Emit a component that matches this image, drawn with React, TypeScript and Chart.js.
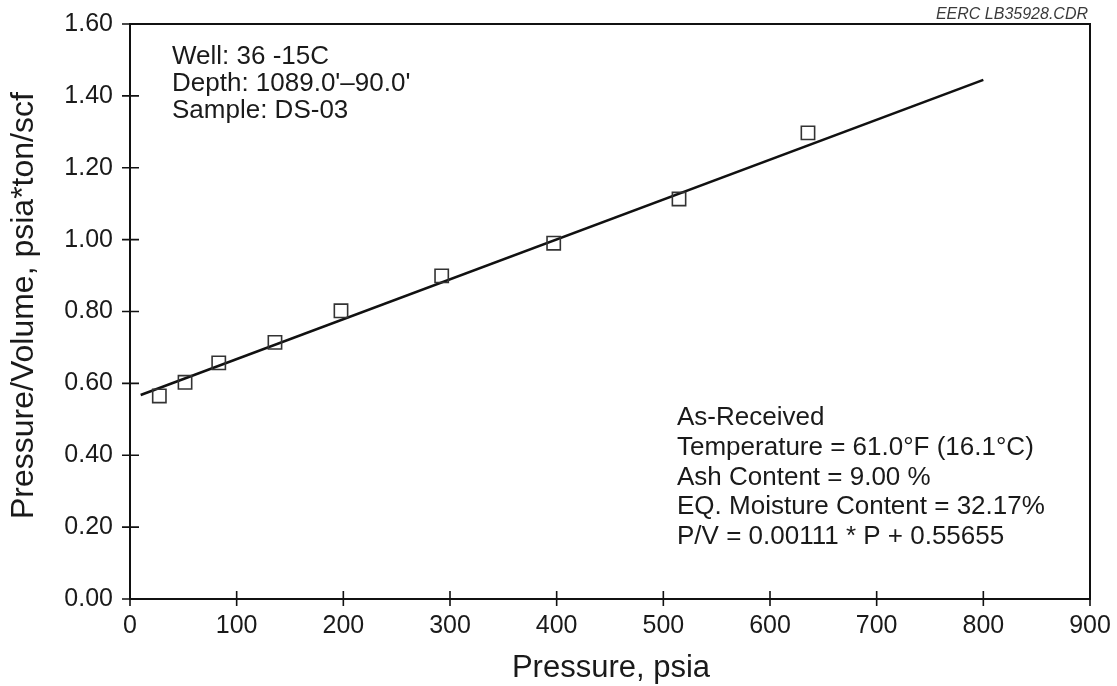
import { useEffect, useRef } from 'react';
import { Chart, registerables } from 'chart.js';

Chart.register(...registerables);

// Measured sorption isotherm points (pressure in psia, P/V in psia*ton/scf)
const pressure = [27.5, 51.6, 83.2, 135.9, 197.8, 292.2, 397.2, 514.7, 635.6];
const pvRatio = [0.565, 0.603, 0.657, 0.714, 0.802, 0.899, 0.99, 1.113, 1.297];

// Linear fit stated on the chart: P/V = 0.00111 * P + 0.55655
const fitSlope = 0.00111;
const fitIntercept = 0.55655;
const fitRange = [10, 800];

const xTickValues = [0, 100, 200, 300, 400, 500, 600, 700, 800, 900];
const yTickValues = [0, 0.2, 0.4, 0.6, 0.8, 1.0, 1.2, 1.4, 1.6];

const wellInfo = ['Well: 36 -15C', "Depth: 1089.0'–90.0'", 'Sample: DS-03'];
const sampleInfo = [
  'As-Received',
  'Temperature = 61.0°F (16.1°C)',
  'Ash Content = 9.00 %',
  'EQ. Moisture Content = 32.17%',
  'P/V = 0.00111 * P + 0.55655',
];
const fileTag = 'EERC LB35928.CDR';
const xTitle = 'Pressure, psia';
const yTitle = 'Pressure/Volume, psia*ton/scf';

const FONT = '"Liberation Sans", Arial, Helvetica, sans-serif';
const INK = '#1a1a1a';

// Frame, crossing tick marks, axis titles and text notes
const decorPlugin = {
  id: 'decor',
  afterDraw(chart: any) {
    const { ctx, chartArea: a, scales } = chart;
    const xs = scales.x;
    const ys = scales.y;
    ctx.save();

    ctx.strokeStyle = '#111';
    ctx.lineWidth = 2;
    ctx.strokeRect(a.left, a.top, a.right - a.left, a.bottom - a.top);

    ctx.lineWidth = 1.6;
    ctx.beginPath();
    xTickValues.forEach((v) => {
      const px = xs.getPixelForValue(v);
      ctx.moveTo(px, a.bottom - 8);
      ctx.lineTo(px, a.bottom + 7);
    });
    yTickValues.forEach((v) => {
      const py = ys.getPixelForValue(v);
      ctx.moveTo(a.left - 8, py);
      ctx.lineTo(a.left + 9, py);
    });
    ctx.stroke();

    ctx.fillStyle = INK;
    ctx.textBaseline = 'alphabetic';

    // axis titles
    ctx.font = `31px ${FONT}`;
    ctx.textAlign = 'center';
    ctx.fillText(xTitle, 611, 677);
    ctx.save();
    ctx.font = `32px ${FONT}`;
    ctx.translate(33, 519);
    ctx.rotate(-Math.PI / 2);
    ctx.textAlign = 'left';
    ctx.fillText(yTitle, 0, 0);
    ctx.restore();

    // well / sample notes
    ctx.font = `26px ${FONT}`;
    ctx.textAlign = 'left';
    wellInfo.forEach((t, i) => ctx.fillText(t, 172, 64 + i * 27));
    sampleInfo.forEach((t, i) => ctx.fillText(t, 677, 425 + i * 29.8));

    // drawing file tag
    ctx.font = `italic 16px ${FONT}`;
    ctx.fillStyle = '#3a3a3a';
    ctx.textAlign = 'right';
    ctx.fillText(fileTag, 1088, 19);

    ctx.restore();
  },
};

const zeroPadding = (s: any) => {
  s.paddingTop = 0;
  s.paddingBottom = 0;
  s.paddingLeft = 0;
  s.paddingRight = 0;
};

export default function App() {
  const canvasRef = useRef<HTMLCanvasElement | null>(null);

  useEffect(() => {
    const canvas = canvasRef.current;
    if (!canvas) return;

    const points = pressure.map((p, i) => ({ x: p, y: pvRatio[i] }));
    const fitLine = fitRange.map((p) => ({ x: p, y: fitSlope * p + fitIntercept }));

    const chart = new Chart(canvas, {
      type: 'scatter',
      data: {
        datasets: [
          {
            label: 'Measured',
            data: points,
            pointStyle: 'rect',
            pointRadius: 9.4,
            pointBorderWidth: 1.6,
            pointBorderColor: '#333',
            pointBackgroundColor: 'rgba(255,255,255,0)',
            showLine: false,
            order: 1,
          },
          {
            label: 'Fit',
            data: fitLine,
            showLine: true,
            borderColor: '#111',
            borderWidth: 2.6,
            pointRadius: 0,
            fill: false,
            order: 2,
          },
        ],
      },
      options: {
        responsive: false,
        animation: false,
        events: [],
        layout: { padding: { top: 24, right: 27, left: 0, bottom: 0 } },
        plugins: {
          legend: { display: false },
          tooltip: { enabled: false },
          title: { display: false },
        },
        scales: {
          x: {
            type: 'linear',
            min: 0,
            max: 900,
            grid: { display: false, drawTicks: false },
            border: { display: false },
            ticks: {
              stepSize: 100,
              autoSkip: false,
              maxRotation: 0,
              padding: 12,
              color: INK,
              font: { family: FONT, size: 25 },
            },
            afterFit: (s: any) => {
              s.height = 87;
              zeroPadding(s);
            },
          },
          y: {
            type: 'linear',
            min: 0,
            max: 1.6,
            grid: { display: false, drawTicks: false },
            border: { display: false },
            ticks: {
              stepSize: 0.2,
              autoSkip: false,
              padding: 17,
              color: INK,
              font: { family: FONT, size: 25 },
              callback: (v: any) => Number(v).toFixed(2),
            },
            afterFit: (s: any) => {
              s.width = 130;
              zeroPadding(s);
            },
          },
        },
      },
      plugins: [decorPlugin],
    });

    return () => chart.destroy();
  }, []);

  return (
    <div style={{ position: 'fixed', left: 0, top: 0, width: 1117, height: 686, background: '#fff' }}>
      <canvas ref={canvasRef} width={1117} height={686} style={{ display: 'block' }} />
    </div>
  );
}
